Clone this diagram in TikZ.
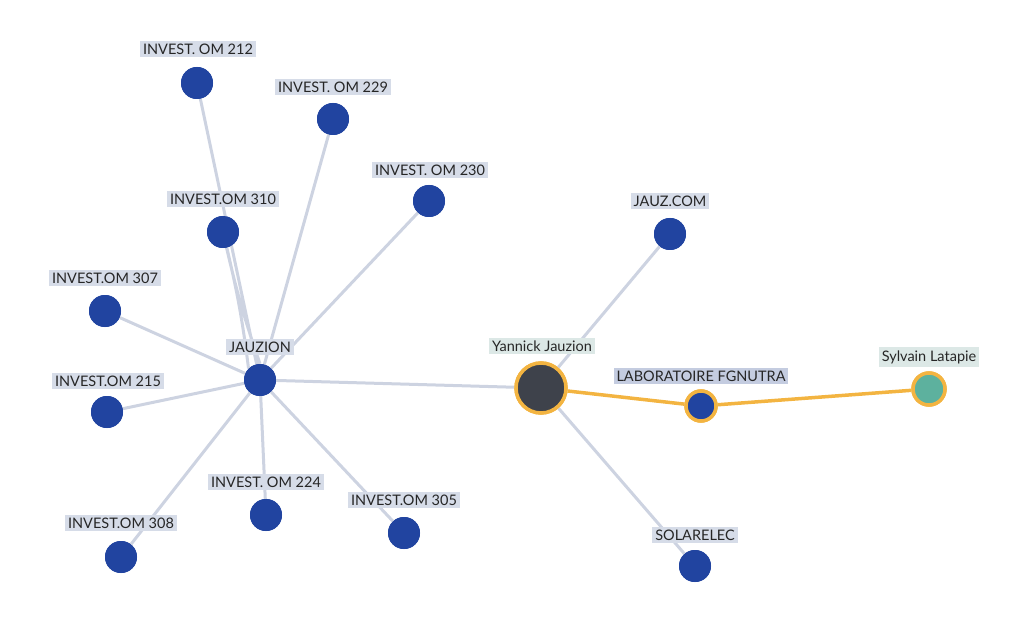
\documentclass[tikz,border=0pt]{standalone}
\usepackage{fontspec}
\setmainfont{Lato}
\begin{document}
\begin{tikzpicture}[x=1pt,y=-1pt,
  dot/.style={circle,fill=blueN,minimum size=32pt,inner sep=0pt},
  lab/.style={fill=labB,inner sep=3pt,font=\fontsize{14.5}{15}\selectfont,text=black!85},
  plab/.style={lab,fill=labP},
  edge/.style={draw=edgeC,line width=3pt},
  oedge/.style={draw=orangeC,line width=3.5pt}]
\definecolor{blueN}{HTML}{2144A0}
\definecolor{labB}{HTML}{D6DCE8}
\definecolor{labP}{HTML}{DCE8E6}
\definecolor{labL}{HTML}{C4CCE0}
\definecolor{edgeC}{HTML}{CDD3E1}
\definecolor{orangeC}{HTML}{F3B441}
\definecolor{darkN}{HTML}{3E424B}
\definecolor{greenN}{HTML}{5DB19E}
\useasboundingbox (0,0) rectangle (1024,617);
\node[dot] (a212) at (197,83) {};
\node[dot] (a229) at (333,119) {};
\node[dot] (a230) at (429,201) {};
\node[dot] (a310) at (223,232) {};
\node[dot] (a307) at (105,311) {};
\node[dot] (jz) at (260,380) {};
\node[dot] (a215) at (107,412) {};
\node[dot] (a224) at (266,515) {};
\node[dot] (a305) at (404,533) {};
\node[dot] (a308) at (121,557) {};
\node[dot] (jcom) at (670,234) {};
\node[dot] (sol) at (695,566) {};
\node[circle,fill=darkN,draw=orangeC,line width=3.5pt,minimum size=50pt,inner sep=0pt] (yj) at (541,388) {};
\node[dot,draw=orangeC,line width=3.5pt,minimum size=30pt] (lab) at (701,406) {};
\node[circle,fill=greenN,draw=orangeC,line width=3.5pt,minimum size=32pt,inner sep=0pt] (sl) at (929,389) {};
\begin{scope}[on background layer/.style={}]
\end{scope}
\begin{pgfinterruptboundingbox}\end{pgfinterruptboundingbox}
\path[edge] (jz) -- (a212) (jz) -- (a229) (jz) -- (a230)
  (jz.north) to[bend left=3] (a310) (jz.north west) to[bend right=3] (a310)
  (jz) -- (a307) (jz) -- (a215) (jz) -- (a224) (jz) -- (a305) (jz) -- (a308)
  (jz) -- (yj) (yj) -- (jcom) (yj) -- (sol);
\path[oedge] (yj) -- (lab) (lab) -- (sl);
% redraw nodes on top
\node[dot] at (197,83) {};\node[dot] at (333,119) {};\node[dot] at (429,201) {};
\node[dot] at (223,232) {};\node[dot] at (105,311) {};\node[dot] at (260,380) {};
\node[dot] at (107,412) {};\node[dot] at (266,515) {};\node[dot] at (404,533) {};
\node[dot] at (121,557) {};\node[dot] at (670,234) {};\node[dot] at (695,566) {};
\node[circle,fill=darkN,draw=orangeC,line width=3.5pt,minimum size=50pt,inner sep=0pt] at (541,388) {};
\node[dot,draw=orangeC,line width=3.5pt,minimum size=30pt] at (701,406) {};
\node[circle,fill=greenN,draw=orangeC,line width=3.5pt,minimum size=32pt,inner sep=0pt] at (929,389) {};
\node[lab] (l212) at (198,49) {INVEST. OM 212};
\node[lab] (l229) at (333,87) {INVEST. OM 229};
\node[lab] (l230) at (430,170) {INVEST. OM 230};
\node[lab] (l310) at (223,199) {INVEST.OM 310};
\node[lab] (l307) at (105,278) {INVEST.OM 307};
\node[lab] (ljz) at (260,347) {JAUZION};
\node[lab] (l215) at (108,381) {INVEST.OM 215};
\node[lab] (l224) at (266,482) {INVEST. OM 224};
\node[lab] (l305) at (404,500) {INVEST.OM 305};
\node[lab] (l308) at (121,523) {INVEST.OM 308};
\node[lab] (ljc) at (670,201) {JAUZ.COM};
\node[lab] (lsol) at (695,535) {SOLARELEC};
\node[plab] (lyj) at (542,346) {Yannick Jauzion};
\node[lab,fill=labL] (llab) at (701,376) {LABORATOIRE FGNUTRA};
\node[plab] (lsl) at (929,357) {Sylvain Latapie};
\end{tikzpicture}
\end{document}
